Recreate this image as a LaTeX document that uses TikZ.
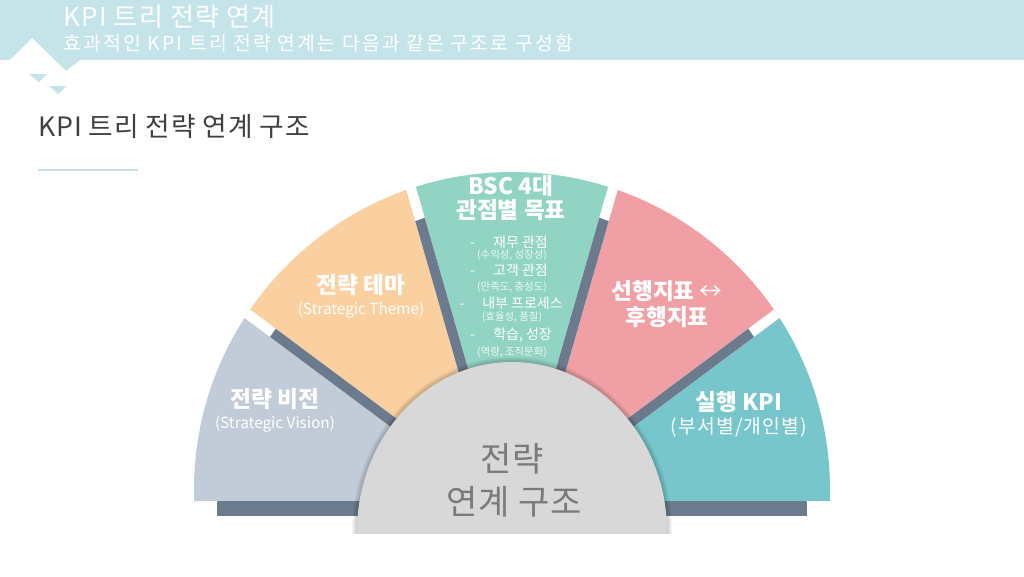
\documentclass[tikz,border=0pt]{standalone}
\usepackage{fontspec}
\setmainfont{Noto Sans CJK KR}
\usepackage{tikz}
\usetikzlibrary{positioning}

\definecolor{bandteal}{RGB}{196,228,233}
\definecolor{visionblue}{RGB}{194,204,216}
\definecolor{themeorange}{RGB}{250,208,160}
\definecolor{bscgreen}{RGB}{146,212,196}
\definecolor{leadpink}{RGB}{240,160,164}
\definecolor{kpiteal}{RGB}{118,198,204}
\definecolor{slate}{RGB}{107,122,141}
\definecolor{hubgray}{RGB}{216,216,216}
\definecolor{hubtext}{RGB}{122,122,122}
\definecolor{headtext}{RGB}{64,64,64}
\definecolor{ruleline}{RGB}{200,222,226}

\begin{document}
\begin{tikzpicture}[
		x=0.75pt, y=-0.75pt,
		gap/.style={
			line width=7.5pt
		},
		head/.style={
			anchor=west,
			inner sep=0,
			text=white
		},
		sectitle/.style={
			inner sep=0,
			text=white,
			font=\fontsize{17}{20}\selectfont\bfseries
		},
		secsub/.style={
			inner sep=0,
			text=white,
			font=\fontsize{11.5}{14}\selectfont
		},
		item/.style={
			inner sep=0,
			text=white,
			font=\fontsize{10.5}{12}\selectfont
		},
		note/.style={
			inner sep=0,
			text=white!85!bscgreen,
			font=\fontsize{7.8}{9}\selectfont
		},
		hub/.style={
			inner sep=0,
			text=hubtext,
			font=\fontsize{25.5}{30}\selectfont\addfontfeatures{LetterSpace=3}
		}
		]
		\useasboundingbox (0,0) rectangle (1024,576);
		\fill[white] (0,0) rectangle (1024,576);
		
		% We start with the header band
		\fill[bandteal] (0,0) rectangle (1024,60);
		\fill[bandteal] (54,60) -- (80,60) -- (66,71) -- cycle;
		\fill[white] (32,38) -- (10,60) -- (66,71) -- cycle;
		\fill[bandteal] (29,74) -- (47,74) -- (39,82) -- cycle;
		\fill[bandteal] (49,86) -- (67,86) -- (58,94) -- cycle;
		
		\node [head, font=\fontsize{19.5}{23}\selectfont\addfontfeatures{LetterSpace=5}] (title) at (63,17) {KPI 트리 전략 연계};
		\node [head, font=\fontsize{14.5}{17}\selectfont\addfontfeatures{LetterSpace=11.5}] (subtitle) at (63,43) {효과적인 KPI 트리 전략 연계는 다음과 같은 구조로 구성함};
		
		\node [head, text=headtext, font=\fontsize{20}{24}\selectfont\addfontfeatures{LetterSpace=3.5}] (heading) at (38,127) {KPI 트리 전략 연계 구조};
		\draw [ruleline, line width=1.2pt] (38,170) -- (138,170);
		
		% then the fan: slate base, coloured blocks and the gaps
		\coordinate (fanc) at (512,490);
		\coordinate (basec) at (512,515);
		\coordinate (g1in) at (512,511);
		\coordinate (g1out) at (45,163);
		\coordinate (g2in) at (512,540);
		\coordinate (g2out) at (357,0);
		\coordinate (g3in) at (512,540);
		\coordinate (g3out) at (667,0);
		\coordinate (g4in) at (512,511);
		\coordinate (g4out) at (979,163);
		
		\begin{scope}
			\clip (0,0) rectangle (1024,515);
			\fill [slate] (basec) ellipse (295 and 311);
		\end{scope}
		
		\begin{scope}
			\clip (0,0) rectangle (1024,500);
			\clip (fanc) circle (318);
			\fill [visionblue] (0,163) -- (g1out) -- (g1in) -- (512,600) -- (0,600) -- cycle;
			\fill [themeorange] (g1out) -- (502,504) -- (g2out) -- cycle;
			\fill [bscgreen] (g2out) -- (g2in) -- (g3out) -- cycle;
			\fill [leadpink] (g3out) -- (522,504) -- (g4out) -- cycle;
			\fill [kpiteal] (1024,163) -- (g4out) -- (g4in) -- (512,600) -- (1024,600) -- cycle;
			
			\draw [gap, white] (g1in) -- (g1out);
			\draw [gap, white] (g2in) -- (g2out);
			\draw [gap, white] (g3in) -- (g3out);
			\draw [gap, white] (g4in) -- (g4out);
			\begin{scope}
				\clip (basec) ellipse (295 and 311);
				\draw [gap, slate] (g1in) -- (g1out);
				\draw [gap, slate] (g2in) -- (g2out);
				\draw [gap, slate] (g3in) -- (g3out);
				\draw [gap, slate] (g4in) -- (g4out);
			\end{scope}
		\end{scope}
		
		% the hub in the middle
		\begin{scope}
			\clip (0,0) rectangle (1024,533);
			\foreach \s in {5,4,3,2,1}
			\fill [black, opacity=0.04] (512,532) ellipse ({155+\s} and {170+\s});
			\fill [hubgray] (512,532) ellipse (155 and 170);
		\end{scope}
		
		\node [hub] (hubtop) at (512,459) {전략};
		\node [hub] (hubbot) at (514,502) {연계 구조};
		
		% labels on the blocks
		\node [sectitle] (vision) at (275,399) {전략 비전};
		\node [secsub, below=4pt of vision] (visionen) {(Strategic Vision)};
		
		\node [sectitle] (theme) at (361,285) {전략 테마};
		\node [secsub, below=4pt of theme] (themeen) {(Strategic Theme)};
		
		\node [sectitle] (bsc) at (511,186) {BSC 4대};
		\node [sectitle] (bscgoal) at (511,210) {관점별 목표};
		\node [item] (fin) at (509,242) {-\hspace{1.3em}재무 관점};
		\node [note] (finnote) at (512,255) {(수익성, 성장성)};
		\node [item] (cust) at (509,270) {-\hspace{1.3em}고객 관점};
		\node [note] (custnote) at (512,287) {(만족도, 충성도)};
		\node [item] (proc) at (511,303) {-\hspace{1.3em}내부 프로세스};
		\node [note] (procnote) at (512,317) {(효율성, 품질)};
		\node [item] (learn) at (511,335) {-\hspace{1.3em}학습, 성장};
		\node [note] (learnnote) at (512,352) {(역량, 조직문화)};
		
		\node [sectitle] (lead) at (667,291) {선행지표 {\mdseries ↔}};
		\node [sectitle] (lag) at (667,317) {후행지표};
		
		\node [sectitle] (exec) at (739,402) {실행 KPI};
		\node [secsub, font=\fontsize{14.5}{17}\selectfont\addfontfeatures{LetterSpace=6}, below=3pt of exec] (execsub) {(부서별/개인별)};
		
	\end{tikzpicture}
\end{document}
